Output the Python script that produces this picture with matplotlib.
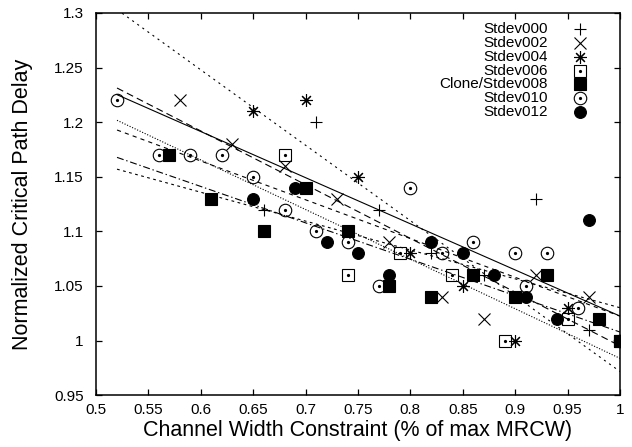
import numpy as np
import matplotlib.pyplot as plt

plt.rcParams['font.family'] = ['Liberation Sans', 'DejaVu Sans']
plt.rcParams['lines.scale_dashes'] = False

labels = ['Stdev000', 'Stdev002', 'Stdev004', 'Stdev006',
          'Clone/Stdev008', 'Stdev010', 'Stdev012']

x000 = [0.66, 0.71, 0.77, 0.82, 0.87, 0.92, 0.97, 1.00]
y000 = [1.12, 1.20, 1.12, 1.08, 1.06, 1.13, 1.01, 1.00]
x002 = [0.58, 0.63, 0.68, 0.73, 0.78, 0.83, 0.87, 0.92, 0.97, 1.00]
y002 = [1.22, 1.18, 1.16, 1.13, 1.09, 1.04, 1.02, 1.06, 1.04, 1.00]
x004 = [0.65, 0.70, 0.75, 0.80, 0.85, 0.90, 0.95, 1.00]
y004 = [1.21, 1.22, 1.15, 1.08, 1.05, 1.00, 1.03, 1.00]
x006 = [0.68, 0.74, 0.79, 0.84, 0.89, 0.95, 1.00]
y006 = [1.17, 1.06, 1.08, 1.06, 1.00, 1.02, 1.00]
x008 = [0.57, 0.61, 0.66, 0.70, 0.74, 0.78, 0.82, 0.86, 0.90, 0.93, 0.98, 1.00]
y008 = [1.17, 1.13, 1.10, 1.14, 1.10, 1.05, 1.04, 1.06, 1.04, 1.06, 1.02, 1.00]
x010 = [0.52, 0.56, 0.59, 0.62, 0.65, 0.68, 0.71, 0.74, 0.77, 0.80, 0.83,
        0.86, 0.90, 0.91, 0.93, 0.96, 1.00]
y010 = [1.22, 1.17, 1.17, 1.17, 1.15, 1.12, 1.10, 1.09, 1.05, 1.14, 1.08,
        1.09, 1.08, 1.05, 1.08, 1.03, 1.00]
x012 = [0.65, 0.69, 0.72, 0.75, 0.78, 0.82, 0.85, 0.88, 0.91, 0.94, 0.97, 1.00]
y012 = [1.13, 1.14, 1.09, 1.08, 1.06, 1.09, 1.08, 1.06, 1.04, 1.02, 1.11, 1.00]

xs = [x000, x002, x004, x006, x008, x010, x012]
ys = [y000, y002, y004, y006, y008, y010, y012]

# gnuplot-like point types
markers = ['+', 'x', (8, 2, 0), 's', 's', 'o', 'o']
filled = [True, True, True, False, True, False, True]
center_dot = [False, False, False, True, False, True, False]
sizes = [9, 8, 9, 8.5, 8.5, 9, 8.5]
styles = ['-', (0, (5, 3)), (0, (1.5, 3)), (0, (0.8, 1.2)),
          (0, (5, 2, 1, 2)), (0, (3, 3)), (0, (2, 2.5))]

fig = plt.figure(figsize=(6.32, 4.47), dpi=100)
ax = fig.add_axes([0.152, 0.116, 0.829, 0.855])

xmin = min(min(x) for x in xs)
xfit = np.linspace(xmin, 1.0, 100)

for i in range(len(xs)):
    x = np.array(xs[i])
    y = np.array(ys[i])
    fc = 'black' if filled[i] else 'none'
    ax.plot(x, y, linestyle='none', marker=markers[i], ms=sizes[i],
            mfc=fc, mec='black', mew=0.8, color='black')
    if center_dot[i]:
        ax.plot(x, y, linestyle='none', marker='o', ms=1.3, color='black')
    # linear fit
    p = np.polyfit(x, y, 1)
    ax.plot(xfit, np.polyval(p, xfit), color='black', lw=0.8,
            linestyle=styles[i])

# legend (drawn by hand to get gnuplot layout)
row0 = 0.958
dy = 0.0362
for i in range(len(labels)):
    yy = row0 - i * dy
    ax.text(0.8626, yy, labels[i], transform=ax.transAxes, ha='right',
            va='center', fontsize=11)
    fc = 'black' if filled[i] else 'none'
    ax.plot([0.9237], [yy], transform=ax.transAxes, linestyle='none',
            marker=markers[i], ms=sizes[i], mfc=fc, mec='black', mew=0.8,
            color='black')
    if center_dot[i]:
        ax.plot([0.9237], [yy], transform=ax.transAxes, linestyle='none',
                marker='o', ms=1.3, color='black')

ax.set_xlim(0.5, 1.0)
ax.set_ylim(0.95, 1.3)
ax.set_xticks(np.arange(0.5, 1.001, 0.05))
ax.set_yticks(np.arange(0.95, 1.301, 0.05))
ax.set_xticklabels(['0.5', '0.55', '0.6', '0.65', '0.7', '0.75', '0.8',
                    '0.85', '0.9', '0.95', '1'])
ax.set_yticklabels(['0.95', '1', '1.05', '1.1', '1.15', '1.2', '1.25', '1.3'])
ax.tick_params(direction='in', length=4.5, width=0.9, top=True, right=True,
               labelsize=11)
ax.tick_params(axis='y', pad=9)
ax.tick_params(axis='x', pad=6)
for s in ax.spines.values():
    s.set_linewidth(1.1)

ax.set_xlabel('Channel Width Constraint (% of max MRCW)', fontsize=15.5,
              labelpad=2)
ax.set_ylabel('Normalized Critical Path Delay', fontsize=15.5, labelpad=15)

fig.savefig('out.png', dpi=100)
